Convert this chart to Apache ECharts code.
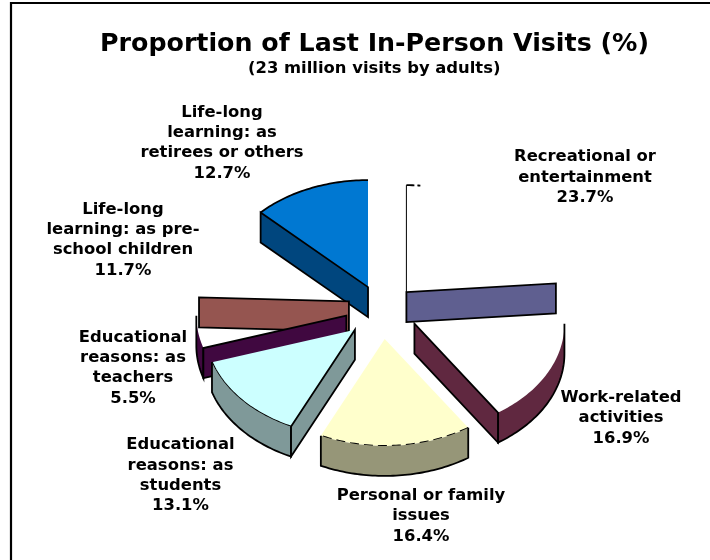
<!DOCTYPE html>
<html>
<head>
<meta charset="utf-8">
<style>
  html, body { margin: 0; padding: 0; background: #fff; }
  #chart { width: 710px; height: 560px; }
</style>
<script src="https://cdn.jsdelivr.net/npm/echarts@6/dist/echarts.min.js"></script>
</head>
<body>
<div id="chart"></div>
<script>
// slices run clockwise from 12 o'clock
const categories = [
  'Recreational or\nentertainment',
  'Work-related\nactivities',
  'Personal or family\nissues',
  'Educational\nreasons: as\nstudents',
  'Educational\nreasons: as\nteachers',
  'Life-long\nlearning: as pre-\nschool children',
  'Life-long\nlearning: as\nretirees or others',
]
const values = [23.7, 16.9, 16.4, 13.1, 5.5, 11.7, 12.7]

// the white slices have no fill at all in the original, what is behind shows through
const topColors = ['none', 'none', '#ffffcc', '#ccffff', 'none', 'none', '#0078d2']
const sideColors = ['#5f5f90', '#602840', '#969678', '#7f9999', '#400840', '#955550', '#00467e']
const arcDash = [[8, 3, 3, 900], null, [9, 5], 'solid', null, null, 'solid']
const labelCenters = [[585, 177.5], [621, 418], [421, 516], [180.5, 475.5], [133, 368], [123, 240], [222, 143]]

// pie geometry
const cx = 382, cy = 312
const radiusX = 150, radiusY = 107
const explodeX = 36, explodeY = 27
const depth = 30
const edgeWidth = 1.8

const total = values.reduce((a, b) => a + b, 0)

function arcPoints(ox, oy, a0, a1, dy) {
  let pts = []
  let n = Math.max(2, Math.ceil(Math.abs(a1 - a0) / 0.02))
  for (let i = 0; i <= n; i++) {
    let a = a0 + ((a1 - a0) * i) / n
    pts.push([ox + radiusX * Math.sin(a), oy - radiusY * Math.cos(a) + (dy || 0)])
  }
  return pts
}

function renderSlice(params, api) {
  let i = params.dataIndex
  let before = values.slice(0, i).reduce((a, b) => a + b, 0)
  let a0 = (before / total) * Math.PI * 2
  let a1 = ((before + api.value(0)) / total) * Math.PI * 2
  let mid = (a0 + a1) / 2
  let ox = cx + explodeX * Math.sin(mid)
  let oy = cy - explodeY * Math.cos(mid)
  let z = Math.round(oy) // nearer slices paint over the ones behind
  let children = []
  let edge = { fill: null, stroke: '#000', lineWidth: edgeWidth }

  // top face goes first, the walls of nearer slices sit over it
  let rim = arcPoints(ox, oy, a0, a1, 0)
  children.push({
    type: 'polygon',
    z2: z,
    shape: { points: [[ox, oy]].concat(rim) },
    style: { fill: topColors[i], stroke: null },
  })
  if (arcDash[i]) {
    children.push({
      type: 'polyline',
      z2: z,
      shape: { points: rim },
      style: { ...edge, lineDash: arcDash[i] },
    })
  }

  // outer wall, only the part on the front half of the pie
  let w0 = Math.max(a0, Math.PI / 2)
  let w1 = Math.min(a1, (Math.PI * 3) / 2)
  if (w1 > w0) {
    let upper = arcPoints(ox, oy, w0, w1, 0)
    let lower = arcPoints(ox, oy, w0, w1, depth)
    children.push({
      type: 'polygon',
      z2: z,
      shape: { points: upper.concat(lower.slice().reverse()) },
      style: { fill: sideColors[i], stroke: null },
    })
    children.push({
      type: 'polyline',
      z2: z,
      shape: { points: [upper[0]].concat(lower, [upper[upper.length - 1]]) },
      style: edge,
    })
  }
  // radial walls that face the viewer
  let wallAngles = []
  if (Math.sin(a1) > 0) wallAngles.push(a1)
  if (Math.sin(a0) < 0) wallAngles.push(a0)
  wallAngles.forEach((a) => {
    let p = arcPoints(ox, oy, a, a, 0)[0]
    children.push({
      type: 'polygon',
      z2: z,
      shape: { points: [[ox, oy], p, [p[0], p[1] + depth], [ox, oy + depth]] },
      style: { ...edge, fill: sideColors[i] },
    })
  })
  if (i === 0) {
    children.push({
      type: 'line',
      z2: z,
      shape: { x1: ox, y1: oy, x2: ox, y2: oy - radiusY },
      style: { stroke: '#000', lineWidth: 1 },
    })
  }
  // label
  children.push({
    type: 'text',
    z2: 900,
    x: labelCenters[i][0],
    y: labelCenters[i][1],
    style: {
      text: categories[i] + '\n' + api.value(0).toFixed(1) + '%',
      fill: '#000',
      font: 'bold 16.4px "DejaVu Sans"',
      lineHeight: 20.3,
      align: 'center',
      verticalAlign: 'middle',
    },
  })
  return { type: 'group', children }
}

let chart = echarts.init(document.getElementById('chart'), null, { renderer: 'canvas' })
chart.setOption({
  animation: false,
  backgroundColor: '#fff',
  title: [
    {
      text: 'Proportion of Last In-Person Visits (%)',
      left: 100,
      top: 32,
      textStyle: { fontFamily: 'DejaVu Sans', fontWeight: 'bold', fontSize: 25.3, color: '#000' },
      padding: 0,
    },
    {
      text: '(23 million visits by adults)',
      left: 248,
      top: 61,
      textStyle: { fontFamily: 'DejaVu Sans', fontWeight: 'bold', fontSize: 16.4, color: '#000' },
      padding: 0,
    },
  ],
  graphic: [
    // frame only shows on the top and left in the original
    {
      type: 'polyline',
      shape: { points: [[11, 560], [11, 3], [710, 3]] },
      style: { fill: null, stroke: '#000', lineWidth: 2.2 },
    },
  ],
  series: [
    {
      type: 'custom',
      coordinateSystem: 'none',
      renderItem: renderSlice,
      data: values.map((v) => [v]),
    },
  ],
})
</script>
</body>
</html>
